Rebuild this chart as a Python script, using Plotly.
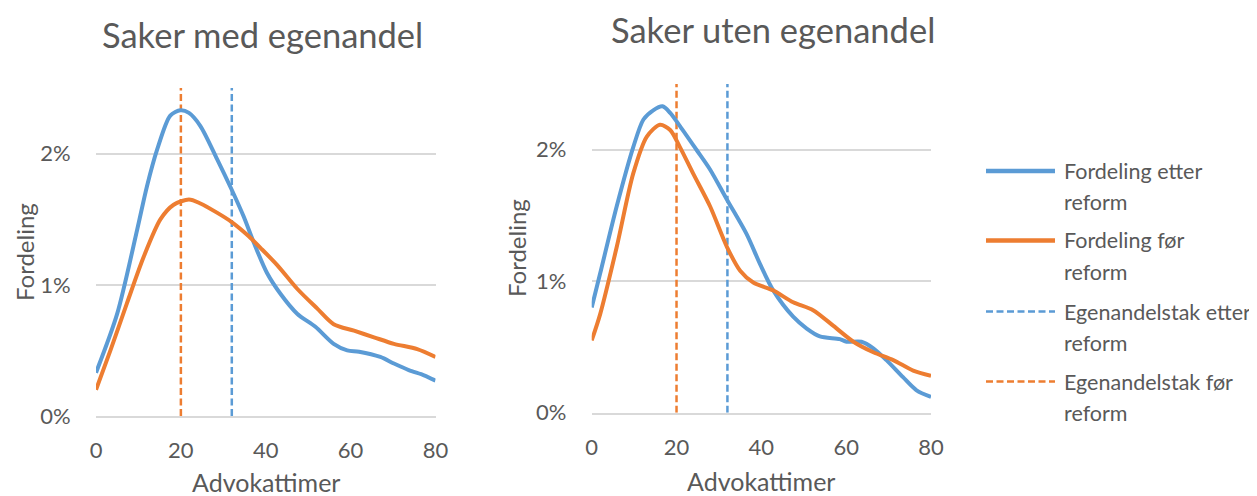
import plotly.graph_objects as go

# ---------------- data ----------------
titles = ["Saker med egenandel", "Saker uten egenandel"]
x_title = "Advokattimer"
y_title = "Fordeling"
series_names = ["Fordeling etter reform", "Fordeling før reform",
                "Egenandelstak etter reform", "Egenandelstak før reform"]
legend_lines = [["Fordeling etter", "reform"], ["Fordeling før", "reform"],
                ["Egenandelstak etter", "reform"], ["Egenandelstak før", "reform"]]

# Left panel: Saker med egenandel
med_etter_x = [0, 5, 9.7, 12, 14.4, 17.5, 19.9, 21.9, 24.6, 28.5, 31.9, 34.8, 37.2, 40.3,
               43.5, 47.4, 51.7, 56, 59.2, 62, 67, 70.2, 73.7, 77.3, 80]
med_etter_y = [0.33, 0.78, 1.42, 1.75, 2.03, 2.29, 2.33, 2.31, 2.21, 1.96, 1.73, 1.52, 1.32, 1.09,
               0.93, 0.78, 0.68, 0.55, 0.50, 0.49, 0.45, 0.40, 0.35, 0.31, 0.27]
med_for_x = [0, 3.4, 7.3, 11.2, 15.2, 18.3, 21.9, 24.6, 28.5, 31.9, 36, 38.8, 42.7, 47.4,
             52.1, 56, 60.8, 65.5, 70.2, 75.7, 80]
med_for_y = [0.20, 0.50, 0.86, 1.21, 1.50, 1.61, 1.65, 1.62, 1.55, 1.48, 1.37, 1.28, 1.15, 0.97,
             0.82, 0.70, 0.65, 0.60, 0.55, 0.51, 0.45]

# Right panel: Saker uten egenandel
uten_etter_x = [0, 2, 5.9, 9.8, 12.2, 14.5, 16.7, 18.5, 20.8, 24.7, 27.9, 31.9, 36.5, 39.7,
                42.8, 47.5, 50.7, 53.8, 58.5, 60.1, 63.6, 66.4, 69.5, 73.4, 76.6, 80]
uten_etter_y = [0.80, 1.06, 1.57, 2.02, 2.23, 2.30, 2.33, 2.28, 2.18, 2.00, 1.85, 1.62, 1.36, 1.13,
                0.93, 0.73, 0.64, 0.58, 0.56, 0.54, 0.54, 0.49, 0.40, 0.27, 0.17, 0.12]
uten_for_x = [0, 2, 5.9, 9.8, 13, 16.1, 18.5, 20.8, 23.9, 27.9, 31.9, 35, 38.1, 42.8,
              47.5, 52.2, 57, 61.7, 66.4, 71.1, 75.8, 80]
uten_for_y = [0.55, 0.75, 1.26, 1.82, 2.10, 2.19, 2.15, 2.02, 1.82, 1.57, 1.26, 1.08, 0.99, 0.93,
              0.84, 0.78, 0.66, 0.54, 0.46, 0.40, 0.32, 0.28]

tak_etter = 32   # Egenandelstak etter reform (timer)
tak_for = 20     # Egenandelstak før reform (timer)

x_ticks = [0, 20, 40, 60, 80]
y_ticks = [0, 0.01, 0.02]
y_max = 0.025

# ---------------- style ----------------
BLUE = "#5B9BD5"
ORANGE = "#ED7D31"
GRID = "#D9D9D9"
TXT = "#595959"
FONT = "Lato"
OFF = 8                      # page body margin in the browser
W, H = 1257 - OFF, 496 - OFF
DASH = "7px,3.5px"

def px(x):
    return (x - OFF) / W

def py(y):
    return 1 - (y - OFF) / H

def pct(v):
    return [a / 100 for a in v]

fig = go.Figure()

panels = [
    ("x", "y", med_etter_x, med_etter_y, med_for_x, med_for_y),
    ("x2", "y2", uten_etter_x, uten_etter_y, uten_for_x, uten_for_y),
]
for xa, ya, ex, ey, fx, fy in panels:
    fig.add_trace(go.Scatter(x=[tak_etter, tak_etter], y=[0, y_max], xaxis=xa, yaxis=ya,
                             mode="lines", name=series_names[2], showlegend=False,
                             line=dict(color=BLUE, width=2.5, dash=DASH)))
    fig.add_trace(go.Scatter(x=[tak_for, tak_for], y=[0, y_max], xaxis=xa, yaxis=ya,
                             mode="lines", name=series_names[3], showlegend=False,
                             line=dict(color=ORANGE, width=2.5, dash=DASH)))
    fig.add_trace(go.Scatter(x=ex, y=pct(ey), xaxis=xa, yaxis=ya, mode="lines",
                             name=series_names[0], showlegend=False,
                             line=dict(color=BLUE, width=4, shape="spline", smoothing=0.8)))
    fig.add_trace(go.Scatter(x=fx, y=pct(fy), xaxis=xa, yaxis=ya, mode="lines",
                             name=series_names[1], showlegend=False,
                             line=dict(color=ORANGE, width=4, shape="spline", smoothing=0.8)))

def xaxis_cfg(domain, anchor):
    return dict(domain=domain, anchor=anchor, range=[0, 80], tickvals=x_ticks,
                automargin=False,
                showgrid=False, zeroline=False, showline=True, linecolor=GRID, linewidth=1.5,
                ticks="outside", ticklen=14, tickcolor="rgba(0,0,0,0)",
                tickfont=dict(family=FONT, size=22, color=TXT))

def yaxis_cfg(domain, anchor):
    return dict(domain=domain, anchor=anchor, range=[0, y_max], tickvals=y_ticks,
                automargin=False,
                tickformat=".0%", showgrid=True, gridcolor=GRID, gridwidth=1.5,
                zeroline=False, showline=False,
                ticks="outside", ticklen=20, tickcolor="rgba(0,0,0,0)",
                tickfont=dict(family=FONT, size=22, color=TXT))

fig.update_layout(
    width=W, height=H,
    margin=dict(l=0, r=0, t=0, b=0, autoexpand=False),
    paper_bgcolor="white", plot_bgcolor="white",
    showlegend=False,
    xaxis=xaxis_cfg([px(96), px(435.5)], "y"),
    yaxis=yaxis_cfg([py(416), py(88)], "x"),
    xaxis2=xaxis_cfg([px(591.7), px(931)], "y2"),
    yaxis2=yaxis_cfg([py(412.7), py(84)], "x2"),
)

# panel titles
fig.add_annotation(text=titles[0], x=px(262), y=py(34), xref="paper", yref="paper",
                   showarrow=False, xanchor="center", yanchor="middle",
                   font=dict(family=FONT, size=34.5, color=TXT))
fig.add_annotation(text=titles[1], x=px(773), y=py(29), xref="paper", yref="paper",
                   showarrow=False, xanchor="center", yanchor="middle",
                   font=dict(family=FONT, size=34.5, color=TXT))

# axis titles
for cx, cy in [(266, 482), (761, 481)]:
    fig.add_annotation(text=x_title, x=px(cx), y=py(cy), xref="paper", yref="paper",
                       showarrow=False, xanchor="center", yanchor="middle",
                       font=dict(family=FONT, size=25, color=TXT))
for cx, cy in [(24, 252), (516, 248)]:
    fig.add_annotation(text=y_title, x=px(cx), y=py(cy), xref="paper", yref="paper",
                       showarrow=False, xanchor="center", yanchor="middle", textangle=-90,
                       font=dict(family=FONT, size=24, color=TXT))

# legend (drawn to match the original layout)
leg_styles = [(BLUE, 4.5, "solid"), (ORANGE, 4.5, "solid"), (BLUE, 2.5, DASH), (ORANGE, 2.5, DASH)]
leg_y = [171, 240.5, 311.5, 381.5]
for (col, wd, dsh), yy, lines in zip(leg_styles, leg_y, legend_lines):
    fig.add_shape(type="line", xref="paper", yref="paper",
                  x0=px(986), x1=px(1055), y0=py(yy), y1=py(yy),
                  line=dict(color=col, width=wd, dash=dsh))
    for k, t in enumerate(lines):
        fig.add_annotation(text=t, x=px(1062), y=py(yy + 31 * k), xref="paper", yref="paper",
                           showarrow=False, xanchor="left", yanchor="middle",
                           font=dict(family=FONT, size=21.5, color=TXT))

fig.write_html("out.html")
